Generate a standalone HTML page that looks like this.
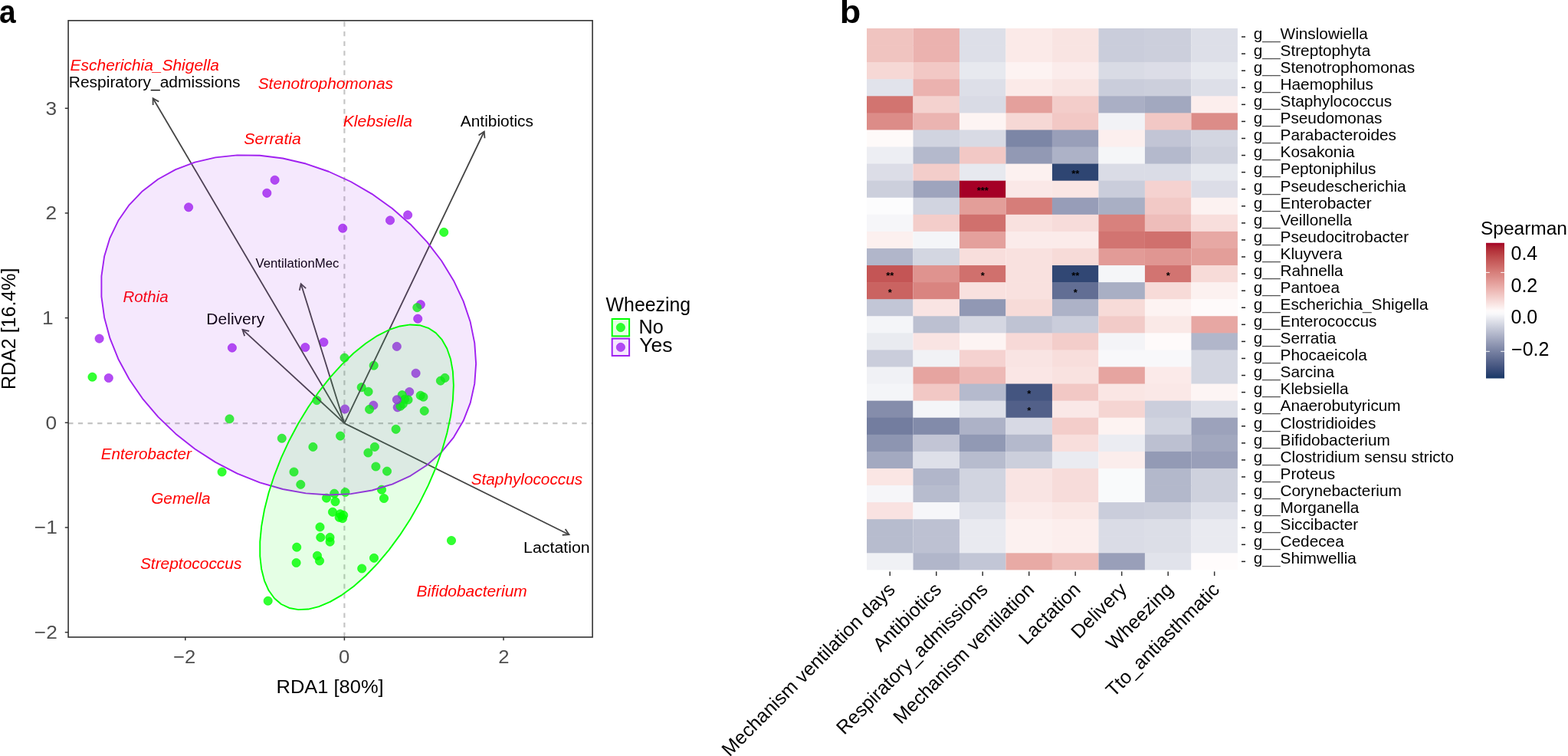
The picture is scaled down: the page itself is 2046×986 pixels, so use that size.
<!DOCTYPE html><html><head><meta charset="utf-8"><title>RDA and Spearman heatmap</title><style>html,body{margin:0;padding:0;background:#fff;width:2046px;height:986px;overflow:hidden}svg{display:block}text{font-family:"Liberation Sans",Arial,Helvetica,sans-serif}</style></head><body>
<svg width="2046" height="986" viewBox="0 0 2046 986">
<rect width="2046" height="986" fill="#fff"/>
<line x1="89.2" y1="552.1" x2="773.1" y2="552.1" stroke="#C4C4C4" stroke-width="2.1" stroke-dasharray="6.32 6.32"/>
<line x1="449.4" y1="831.0" x2="449.4" y2="26.8" stroke="#C4C4C4" stroke-width="2.1" stroke-dasharray="6.32 6.32"/>
<circle cx="358.6" cy="234.8" r="5.6" fill="#A020F0" fill-opacity="0.8" stroke="#A020F0" stroke-opacity="0.8" stroke-width="0.8"/>
<circle cx="348.3" cy="251.8" r="5.6" fill="#A020F0" fill-opacity="0.8" stroke="#A020F0" stroke-opacity="0.8" stroke-width="0.8"/>
<circle cx="246.1" cy="270.3" r="5.6" fill="#A020F0" fill-opacity="0.8" stroke="#A020F0" stroke-opacity="0.8" stroke-width="0.8"/>
<circle cx="447.2" cy="297.7" r="5.6" fill="#A020F0" fill-opacity="0.8" stroke="#A020F0" stroke-opacity="0.8" stroke-width="0.8"/>
<circle cx="532.1" cy="280.4" r="5.6" fill="#A020F0" fill-opacity="0.8" stroke="#A020F0" stroke-opacity="0.8" stroke-width="0.8"/>
<circle cx="509.0" cy="287.4" r="5.6" fill="#A020F0" fill-opacity="0.8" stroke="#A020F0" stroke-opacity="0.8" stroke-width="0.8"/>
<circle cx="548.8" cy="397.2" r="5.6" fill="#A020F0" fill-opacity="0.8" stroke="#A020F0" stroke-opacity="0.8" stroke-width="0.8"/>
<circle cx="545.2" cy="415.7" r="5.6" fill="#A020F0" fill-opacity="0.8" stroke="#A020F0" stroke-opacity="0.8" stroke-width="0.8"/>
<circle cx="517.8" cy="451.9" r="5.6" fill="#A020F0" fill-opacity="0.8" stroke="#A020F0" stroke-opacity="0.8" stroke-width="0.8"/>
<circle cx="129.6" cy="441.6" r="5.6" fill="#A020F0" fill-opacity="0.8" stroke="#A020F0" stroke-opacity="0.8" stroke-width="0.8"/>
<circle cx="302.9" cy="453.6" r="5.6" fill="#A020F0" fill-opacity="0.8" stroke="#A020F0" stroke-opacity="0.8" stroke-width="0.8"/>
<circle cx="398.3" cy="453.0" r="5.6" fill="#A020F0" fill-opacity="0.8" stroke="#A020F0" stroke-opacity="0.8" stroke-width="0.8"/>
<circle cx="422.4" cy="446.3" r="5.6" fill="#A020F0" fill-opacity="0.8" stroke="#A020F0" stroke-opacity="0.8" stroke-width="0.8"/>
<circle cx="141.8" cy="493.0" r="5.6" fill="#A020F0" fill-opacity="0.8" stroke="#A020F0" stroke-opacity="0.8" stroke-width="0.8"/>
<circle cx="450.1" cy="533.5" r="5.6" fill="#A020F0" fill-opacity="0.8" stroke="#A020F0" stroke-opacity="0.8" stroke-width="0.8"/>
<circle cx="542.6" cy="486.8" r="5.6" fill="#A020F0" fill-opacity="0.8" stroke="#A020F0" stroke-opacity="0.8" stroke-width="0.8"/>
<circle cx="534.2" cy="511.1" r="5.6" fill="#A020F0" fill-opacity="0.8" stroke="#A020F0" stroke-opacity="0.8" stroke-width="0.8"/>
<circle cx="518.7" cy="531.3" r="5.6" fill="#A020F0" fill-opacity="0.8" stroke="#A020F0" stroke-opacity="0.8" stroke-width="0.8"/>
<circle cx="487.3" cy="528.6" r="5.6" fill="#A020F0" fill-opacity="0.8" stroke="#A020F0" stroke-opacity="0.8" stroke-width="0.8"/>
<circle cx="449.5" cy="466.6" r="5.6" fill="#00FF00" fill-opacity="0.8" stroke="#00FF00" stroke-opacity="0.8" stroke-width="0.8"/>
<circle cx="579.2" cy="302.9" r="5.6" fill="#00FF00" fill-opacity="0.8" stroke="#00FF00" stroke-opacity="0.8" stroke-width="0.8"/>
<circle cx="544.3" cy="401.1" r="5.6" fill="#00FF00" fill-opacity="0.8" stroke="#00FF00" stroke-opacity="0.8" stroke-width="0.8"/>
<circle cx="120.5" cy="491.7" r="5.6" fill="#00FF00" fill-opacity="0.8" stroke="#00FF00" stroke-opacity="0.8" stroke-width="0.8"/>
<circle cx="471.7" cy="505.2" r="5.6" fill="#00FF00" fill-opacity="0.8" stroke="#00FF00" stroke-opacity="0.8" stroke-width="0.8"/>
<circle cx="480.6" cy="510.8" r="5.6" fill="#00FF00" fill-opacity="0.8" stroke="#00FF00" stroke-opacity="0.8" stroke-width="0.8"/>
<circle cx="413.4" cy="522.1" r="5.6" fill="#00FF00" fill-opacity="0.8" stroke="#00FF00" stroke-opacity="0.8" stroke-width="0.8"/>
<circle cx="299.5" cy="546.4" r="5.6" fill="#00FF00" fill-opacity="0.8" stroke="#00FF00" stroke-opacity="0.8" stroke-width="0.8"/>
<circle cx="367.8" cy="571.7" r="5.6" fill="#00FF00" fill-opacity="0.8" stroke="#00FF00" stroke-opacity="0.8" stroke-width="0.8"/>
<circle cx="444.1" cy="568.6" r="5.6" fill="#00FF00" fill-opacity="0.8" stroke="#00FF00" stroke-opacity="0.8" stroke-width="0.8"/>
<circle cx="408.4" cy="582.9" r="5.6" fill="#00FF00" fill-opacity="0.8" stroke="#00FF00" stroke-opacity="0.8" stroke-width="0.8"/>
<circle cx="289.6" cy="615.5" r="5.6" fill="#00FF00" fill-opacity="0.8" stroke="#00FF00" stroke-opacity="0.8" stroke-width="0.8"/>
<circle cx="383.5" cy="615.5" r="5.6" fill="#00FF00" fill-opacity="0.8" stroke="#00FF00" stroke-opacity="0.8" stroke-width="0.8"/>
<circle cx="392.3" cy="631.9" r="5.6" fill="#00FF00" fill-opacity="0.8" stroke="#00FF00" stroke-opacity="0.8" stroke-width="0.8"/>
<circle cx="436.2" cy="643.7" r="5.6" fill="#00FF00" fill-opacity="0.8" stroke="#00FF00" stroke-opacity="0.8" stroke-width="0.8"/>
<circle cx="450.5" cy="642.0" r="5.6" fill="#00FF00" fill-opacity="0.8" stroke="#00FF00" stroke-opacity="0.8" stroke-width="0.8"/>
<circle cx="426.0" cy="649.6" r="5.6" fill="#00FF00" fill-opacity="0.8" stroke="#00FF00" stroke-opacity="0.8" stroke-width="0.8"/>
<circle cx="437.5" cy="654.2" r="5.6" fill="#00FF00" fill-opacity="0.8" stroke="#00FF00" stroke-opacity="0.8" stroke-width="0.8"/>
<circle cx="434.0" cy="667.8" r="5.6" fill="#00FF00" fill-opacity="0.8" stroke="#00FF00" stroke-opacity="0.8" stroke-width="0.8"/>
<circle cx="443.9" cy="670.3" r="5.6" fill="#00FF00" fill-opacity="0.8" stroke="#00FF00" stroke-opacity="0.8" stroke-width="0.8"/>
<circle cx="448.2" cy="671.9" r="5.6" fill="#00FF00" fill-opacity="0.8" stroke="#00FF00" stroke-opacity="0.8" stroke-width="0.8"/>
<circle cx="447.0" cy="676.1" r="5.6" fill="#00FF00" fill-opacity="0.8" stroke="#00FF00" stroke-opacity="0.8" stroke-width="0.8"/>
<circle cx="442.7" cy="674.8" r="5.6" fill="#00FF00" fill-opacity="0.8" stroke="#00FF00" stroke-opacity="0.8" stroke-width="0.8"/>
<circle cx="417.5" cy="687.4" r="5.6" fill="#00FF00" fill-opacity="0.8" stroke="#00FF00" stroke-opacity="0.8" stroke-width="0.8"/>
<circle cx="418.3" cy="700.9" r="5.6" fill="#00FF00" fill-opacity="0.8" stroke="#00FF00" stroke-opacity="0.8" stroke-width="0.8"/>
<circle cx="430.5" cy="700.9" r="5.6" fill="#00FF00" fill-opacity="0.8" stroke="#00FF00" stroke-opacity="0.8" stroke-width="0.8"/>
<circle cx="430.6" cy="706.6" r="5.6" fill="#00FF00" fill-opacity="0.8" stroke="#00FF00" stroke-opacity="0.8" stroke-width="0.8"/>
<circle cx="387.2" cy="713.7" r="5.6" fill="#00FF00" fill-opacity="0.8" stroke="#00FF00" stroke-opacity="0.8" stroke-width="0.8"/>
<circle cx="414.0" cy="724.8" r="5.6" fill="#00FF00" fill-opacity="0.8" stroke="#00FF00" stroke-opacity="0.8" stroke-width="0.8"/>
<circle cx="417.0" cy="731.5" r="5.6" fill="#00FF00" fill-opacity="0.8" stroke="#00FF00" stroke-opacity="0.8" stroke-width="0.8"/>
<circle cx="386.6" cy="734.0" r="5.6" fill="#00FF00" fill-opacity="0.8" stroke="#00FF00" stroke-opacity="0.8" stroke-width="0.8"/>
<circle cx="472.2" cy="741.5" r="5.6" fill="#00FF00" fill-opacity="0.8" stroke="#00FF00" stroke-opacity="0.8" stroke-width="0.8"/>
<circle cx="488.0" cy="727.8" r="5.6" fill="#00FF00" fill-opacity="0.8" stroke="#00FF00" stroke-opacity="0.8" stroke-width="0.8"/>
<circle cx="349.7" cy="783.7" r="5.6" fill="#00FF00" fill-opacity="0.8" stroke="#00FF00" stroke-opacity="0.8" stroke-width="0.8"/>
<circle cx="589.0" cy="705.0" r="5.6" fill="#00FF00" fill-opacity="0.8" stroke="#00FF00" stroke-opacity="0.8" stroke-width="0.8"/>
<circle cx="487.7" cy="476.7" r="5.6" fill="#00FF00" fill-opacity="0.8" stroke="#00FF00" stroke-opacity="0.8" stroke-width="0.8"/>
<circle cx="574.9" cy="496.6" r="5.6" fill="#00FF00" fill-opacity="0.8" stroke="#00FF00" stroke-opacity="0.8" stroke-width="0.8"/>
<circle cx="580.5" cy="492.9" r="5.6" fill="#00FF00" fill-opacity="0.8" stroke="#00FF00" stroke-opacity="0.8" stroke-width="0.8"/>
<circle cx="524.7" cy="515.2" r="5.6" fill="#00FF00" fill-opacity="0.8" stroke="#00FF00" stroke-opacity="0.8" stroke-width="0.8"/>
<circle cx="532.5" cy="521.4" r="5.6" fill="#00FF00" fill-opacity="0.8" stroke="#00FF00" stroke-opacity="0.8" stroke-width="0.8"/>
<circle cx="548.7" cy="515.8" r="5.6" fill="#00FF00" fill-opacity="0.8" stroke="#00FF00" stroke-opacity="0.8" stroke-width="0.8"/>
<circle cx="552.4" cy="517.7" r="5.6" fill="#00FF00" fill-opacity="0.8" stroke="#00FF00" stroke-opacity="0.8" stroke-width="0.8"/>
<circle cx="528.0" cy="520.8" r="5.6" fill="#00FF00" fill-opacity="0.8" stroke="#00FF00" stroke-opacity="0.8" stroke-width="0.8"/>
<circle cx="525.8" cy="526.9" r="5.6" fill="#00FF00" fill-opacity="0.8" stroke="#00FF00" stroke-opacity="0.8" stroke-width="0.8"/>
<circle cx="522.5" cy="529.7" r="5.6" fill="#00FF00" fill-opacity="0.8" stroke="#00FF00" stroke-opacity="0.8" stroke-width="0.8"/>
<circle cx="482.1" cy="533.9" r="5.6" fill="#00FF00" fill-opacity="0.8" stroke="#00FF00" stroke-opacity="0.8" stroke-width="0.8"/>
<circle cx="553.7" cy="535.9" r="5.6" fill="#00FF00" fill-opacity="0.8" stroke="#00FF00" stroke-opacity="0.8" stroke-width="0.8"/>
<circle cx="516.6" cy="559.8" r="5.6" fill="#00FF00" fill-opacity="0.8" stroke="#00FF00" stroke-opacity="0.8" stroke-width="0.8"/>
<circle cx="488.9" cy="582.9" r="5.6" fill="#00FF00" fill-opacity="0.8" stroke="#00FF00" stroke-opacity="0.8" stroke-width="0.8"/>
<circle cx="480.4" cy="590.5" r="5.6" fill="#00FF00" fill-opacity="0.8" stroke="#00FF00" stroke-opacity="0.8" stroke-width="0.8"/>
<circle cx="490.4" cy="608.5" r="5.6" fill="#00FF00" fill-opacity="0.8" stroke="#00FF00" stroke-opacity="0.8" stroke-width="0.8"/>
<circle cx="505.0" cy="614.6" r="5.6" fill="#00FF00" fill-opacity="0.8" stroke="#00FF00" stroke-opacity="0.8" stroke-width="0.8"/>
<circle cx="498.0" cy="638.7" r="5.6" fill="#00FF00" fill-opacity="0.8" stroke="#00FF00" stroke-opacity="0.8" stroke-width="0.8"/>
<circle cx="501.0" cy="650.0" r="5.6" fill="#00FF00" fill-opacity="0.8" stroke="#00FF00" stroke-opacity="0.8" stroke-width="0.8"/>
<circle cx="517.9" cy="521.3" r="5.6" fill="#A020F0" fill-opacity="0.8" stroke="#A020F0" stroke-opacity="0.8" stroke-width="0.8"/>
<g stroke="#444444" stroke-width="1.8" stroke-linecap="butt" stroke-linejoin="miter">
<line x1="449.4" y1="552.1" x2="199.6" y2="128.3"/><polyline points="207.26,132.63 199.60,128.30 199.68,137.10" fill="none"/>
<line x1="449.4" y1="552.1" x2="631.8" y2="171.5"/><polyline points="632.47,180.27 631.80,171.50 624.54,176.47" fill="none"/>
<line x1="449.4" y1="552.1" x2="392.7" y2="370.2"/><polyline points="399.17,376.17 392.70,370.20 390.77,378.79" fill="none"/>
<line x1="449.4" y1="552.1" x2="316.5" y2="429.9"/><polyline points="325.09,431.82 316.50,429.90 319.13,438.30" fill="none"/>
<line x1="449.4" y1="552.1" x2="742.5" y2="697.2"/><polyline points="733.72,697.76 742.50,697.20 737.62,689.88" fill="none"/>
</g>
<rect x="89.1" y="26.8" width="684.0" height="804.2" fill="none" stroke="#333333" stroke-width="1.6"/>
<line x1="241.79999999999998" y1="831.0" x2="241.79999999999998" y2="835.3" stroke="#333" stroke-width="1.5"/>
<line x1="449.4" y1="831.0" x2="449.4" y2="835.3" stroke="#333" stroke-width="1.5"/>
<line x1="657.0" y1="831.0" x2="657.0" y2="835.3" stroke="#333" stroke-width="1.5"/>
<line x1="84.8" y1="824.66" x2="89.1" y2="824.66" stroke="#333" stroke-width="1.5"/>
<line x1="84.8" y1="687.98" x2="89.1" y2="687.98" stroke="#333" stroke-width="1.5"/>
<line x1="84.8" y1="551.3" x2="89.1" y2="551.3" stroke="#333" stroke-width="1.5"/>
<line x1="84.8" y1="414.61999999999995" x2="89.1" y2="414.61999999999995" stroke="#333" stroke-width="1.5"/>
<line x1="84.8" y1="277.93999999999994" x2="89.1" y2="277.93999999999994" stroke="#333" stroke-width="1.5"/>
<line x1="84.8" y1="141.25999999999993" x2="89.1" y2="141.25999999999993" stroke="#333" stroke-width="1.5"/>
<text transform="translate(19.7,428.8) rotate(-90)" font-size="25" fill="#000" text-anchor="middle">RDA2 [16.4%]</text>
<rect x="798.7" y="416.0" width="22.4" height="22.4" fill="#00FF00" fill-opacity="0.1" stroke="#00FF00" stroke-width="2"/>
<circle cx="809.9" cy="427.1" r="5.6" fill="#00FF00" fill-opacity="0.8" stroke="#00FF00" stroke-opacity="0.8" stroke-width="0.8"/>
<rect x="798.7" y="441.6" width="22.4" height="22.4" fill="#A020F0" fill-opacity="0.1" stroke="#A020F0" stroke-width="2"/>
<circle cx="809.9" cy="452.9" r="5.6" fill="#A020F0" fill-opacity="0.8" stroke="#A020F0" stroke-opacity="0.8" stroke-width="0.8"/>
<rect x="1131.00" y="37.00" width="60.49" height="22.68" fill="#F0C4C0"/>
<rect x="1191.49" y="37.00" width="60.49" height="22.68" fill="#EBB2AF"/>
<rect x="1251.97" y="37.00" width="60.49" height="22.68" fill="#DDDFE8"/>
<rect x="1312.46" y="37.00" width="60.49" height="22.68" fill="#FBEAE8"/>
<rect x="1372.95" y="37.00" width="60.49" height="22.68" fill="#F9E4E2"/>
<rect x="1433.44" y="37.00" width="60.49" height="22.68" fill="#CACDDB"/>
<rect x="1493.93" y="37.00" width="60.49" height="22.68" fill="#CCCFDC"/>
<rect x="1554.41" y="37.00" width="60.49" height="22.68" fill="#DDDFE8"/>
<rect x="1131.00" y="59.08" width="60.49" height="22.68" fill="#F0C4C0"/>
<rect x="1191.49" y="59.08" width="60.49" height="22.68" fill="#EBB2AF"/>
<rect x="1251.97" y="59.08" width="60.49" height="22.68" fill="#DDDFE8"/>
<rect x="1312.46" y="59.08" width="60.49" height="22.68" fill="#FBEAE8"/>
<rect x="1372.95" y="59.08" width="60.49" height="22.68" fill="#F9E4E2"/>
<rect x="1433.44" y="59.08" width="60.49" height="22.68" fill="#CACDDB"/>
<rect x="1493.93" y="59.08" width="60.49" height="22.68" fill="#CCCFDC"/>
<rect x="1554.41" y="59.08" width="60.49" height="22.68" fill="#DDDFE8"/>
<rect x="1131.00" y="81.15" width="60.49" height="22.68" fill="#F6D8D5"/>
<rect x="1191.49" y="81.15" width="60.49" height="22.68" fill="#F2C8C5"/>
<rect x="1251.97" y="81.15" width="60.49" height="22.68" fill="#E7E9EF"/>
<rect x="1312.46" y="81.15" width="60.49" height="22.68" fill="#FDF3F2"/>
<rect x="1372.95" y="81.15" width="60.49" height="22.68" fill="#FBECEB"/>
<rect x="1433.44" y="81.15" width="60.49" height="22.68" fill="#D9DBE5"/>
<rect x="1493.93" y="81.15" width="60.49" height="22.68" fill="#DCDDE7"/>
<rect x="1554.41" y="81.15" width="60.49" height="22.68" fill="#E7E9EF"/>
<rect x="1131.00" y="103.22" width="60.49" height="22.68" fill="#E1E3EB"/>
<rect x="1191.49" y="103.22" width="60.49" height="22.68" fill="#EBB2AF"/>
<rect x="1251.97" y="103.22" width="60.49" height="22.68" fill="#DDDFE8"/>
<rect x="1312.46" y="103.22" width="60.49" height="22.68" fill="#FBEAE8"/>
<rect x="1372.95" y="103.22" width="60.49" height="22.68" fill="#F9E4E2"/>
<rect x="1433.44" y="103.22" width="60.49" height="22.68" fill="#CACDDB"/>
<rect x="1493.93" y="103.22" width="60.49" height="22.68" fill="#CCCFDC"/>
<rect x="1554.41" y="103.22" width="60.49" height="22.68" fill="#DDDFE8"/>
<rect x="1131.00" y="125.30" width="60.49" height="22.68" fill="#D27470"/>
<rect x="1191.49" y="125.30" width="60.49" height="22.68" fill="#F4D2CF"/>
<rect x="1251.97" y="125.30" width="60.49" height="22.68" fill="#D9DBE5"/>
<rect x="1312.46" y="125.30" width="60.49" height="22.68" fill="#E4A09C"/>
<rect x="1372.95" y="125.30" width="60.49" height="22.68" fill="#F3CDCA"/>
<rect x="1433.44" y="125.30" width="60.49" height="22.68" fill="#AAAFC5"/>
<rect x="1493.93" y="125.30" width="60.49" height="22.68" fill="#A2A8BF"/>
<rect x="1554.41" y="125.30" width="60.49" height="22.68" fill="#FCEEED"/>
<rect x="1131.00" y="147.38" width="60.49" height="22.68" fill="#DC8C88"/>
<rect x="1191.49" y="147.38" width="60.49" height="22.68" fill="#EBB4B1"/>
<rect x="1251.97" y="147.38" width="60.49" height="22.68" fill="#FDF4F3"/>
<rect x="1312.46" y="147.38" width="60.49" height="22.68" fill="#F6D8D5"/>
<rect x="1372.95" y="147.38" width="60.49" height="22.68" fill="#F2C8C5"/>
<rect x="1433.44" y="147.38" width="60.49" height="22.68" fill="#F2F2F6"/>
<rect x="1493.93" y="147.38" width="60.49" height="22.68" fill="#F2C8C5"/>
<rect x="1554.41" y="147.38" width="60.49" height="22.68" fill="#DC8C88"/>
<rect x="1131.00" y="169.45" width="60.49" height="22.68" fill="#FEFAF9"/>
<rect x="1191.49" y="169.45" width="60.49" height="22.68" fill="#D1D4E0"/>
<rect x="1251.97" y="169.45" width="60.49" height="22.68" fill="#D8DAE4"/>
<rect x="1312.46" y="169.45" width="60.49" height="22.68" fill="#7C86A6"/>
<rect x="1372.95" y="169.45" width="60.49" height="22.68" fill="#999FB9"/>
<rect x="1433.44" y="169.45" width="60.49" height="22.68" fill="#FCEFEE"/>
<rect x="1493.93" y="169.45" width="60.49" height="22.68" fill="#C2C5D5"/>
<rect x="1554.41" y="169.45" width="60.49" height="22.68" fill="#D3D6E1"/>
<rect x="1131.00" y="191.53" width="60.49" height="22.68" fill="#EDEEF3"/>
<rect x="1191.49" y="191.53" width="60.49" height="22.68" fill="#B4B9CC"/>
<rect x="1251.97" y="191.53" width="60.49" height="22.68" fill="#F2C8C5"/>
<rect x="1312.46" y="191.53" width="60.49" height="22.68" fill="#9299B4"/>
<rect x="1372.95" y="191.53" width="60.49" height="22.68" fill="#ADB2C7"/>
<rect x="1433.44" y="191.53" width="60.49" height="22.68" fill="#F5F6F8"/>
<rect x="1493.93" y="191.53" width="60.49" height="22.68" fill="#B4B9CC"/>
<rect x="1554.41" y="191.53" width="60.49" height="22.68" fill="#CED1DD"/>
<rect x="1131.00" y="213.60" width="60.49" height="22.68" fill="#DCDDE7"/>
<rect x="1191.49" y="213.60" width="60.49" height="22.68" fill="#F3CDCA"/>
<rect x="1251.97" y="213.60" width="60.49" height="22.68" fill="#E7E9EF"/>
<rect x="1312.46" y="213.60" width="60.49" height="22.68" fill="#FCF1F0"/>
<rect x="1372.95" y="213.60" width="60.49" height="22.68" fill="#2E4572"/>
<rect x="1433.44" y="213.60" width="60.49" height="22.68" fill="#DADCE6"/>
<rect x="1493.93" y="213.60" width="60.49" height="22.68" fill="#DADCE6"/>
<rect x="1554.41" y="213.60" width="60.49" height="22.68" fill="#E7E9EF"/>
<rect x="1131.00" y="235.67" width="60.49" height="22.68" fill="#CCCFDC"/>
<rect x="1191.49" y="235.67" width="60.49" height="22.68" fill="#9EA4BD"/>
<rect x="1251.97" y="235.67" width="60.49" height="22.68" fill="#A50026"/>
<rect x="1312.46" y="235.67" width="60.49" height="22.68" fill="#FAE8E7"/>
<rect x="1372.95" y="235.67" width="60.49" height="22.68" fill="#FAE6E4"/>
<rect x="1433.44" y="235.67" width="60.49" height="22.68" fill="#CACDDB"/>
<rect x="1493.93" y="235.67" width="60.49" height="22.68" fill="#F5D2D0"/>
<rect x="1554.41" y="235.67" width="60.49" height="22.68" fill="#DCDDE7"/>
<rect x="1131.00" y="257.75" width="60.49" height="22.68" fill="#FCFCFD"/>
<rect x="1191.49" y="257.75" width="60.49" height="22.68" fill="#D1D4E0"/>
<rect x="1251.97" y="257.75" width="60.49" height="22.68" fill="#E39E99"/>
<rect x="1312.46" y="257.75" width="60.49" height="22.68" fill="#D67D79"/>
<rect x="1372.95" y="257.75" width="60.49" height="22.68" fill="#979DB8"/>
<rect x="1433.44" y="257.75" width="60.49" height="22.68" fill="#A9AFC4"/>
<rect x="1493.93" y="257.75" width="60.49" height="22.68" fill="#F2C9C6"/>
<rect x="1554.41" y="257.75" width="60.49" height="22.68" fill="#FCF2F1"/>
<rect x="1131.00" y="279.82" width="60.49" height="22.68" fill="#F6F6F9"/>
<rect x="1191.49" y="279.82" width="60.49" height="22.68" fill="#F3CDCA"/>
<rect x="1251.97" y="279.82" width="60.49" height="22.68" fill="#D0706D"/>
<rect x="1312.46" y="279.82" width="60.49" height="22.68" fill="#F9E1DF"/>
<rect x="1372.95" y="279.82" width="60.49" height="22.68" fill="#F7DCDA"/>
<rect x="1433.44" y="279.82" width="60.49" height="22.68" fill="#D8817D"/>
<rect x="1493.93" y="279.82" width="60.49" height="22.68" fill="#EEBDBA"/>
<rect x="1554.41" y="279.82" width="60.49" height="22.68" fill="#F8DEDC"/>
<rect x="1131.00" y="301.90" width="60.49" height="22.68" fill="#FCF0EF"/>
<rect x="1191.49" y="301.90" width="60.49" height="22.68" fill="#F4F5F8"/>
<rect x="1251.97" y="301.90" width="60.49" height="22.68" fill="#E4A09C"/>
<rect x="1312.46" y="301.90" width="60.49" height="22.68" fill="#FBEBEA"/>
<rect x="1372.95" y="301.90" width="60.49" height="22.68" fill="#FBEBEA"/>
<rect x="1433.44" y="301.90" width="60.49" height="22.68" fill="#D27471"/>
<rect x="1493.93" y="301.90" width="60.49" height="22.68" fill="#D0706D"/>
<rect x="1554.41" y="301.90" width="60.49" height="22.68" fill="#E7A8A4"/>
<rect x="1131.00" y="323.97" width="60.49" height="22.68" fill="#B1B6CA"/>
<rect x="1191.49" y="323.97" width="60.49" height="22.68" fill="#D3D6E1"/>
<rect x="1251.97" y="323.97" width="60.49" height="22.68" fill="#F8DEDC"/>
<rect x="1312.46" y="323.97" width="60.49" height="22.68" fill="#F9E1DF"/>
<rect x="1372.95" y="323.97" width="60.49" height="22.68" fill="#F7DBD8"/>
<rect x="1433.44" y="323.97" width="60.49" height="22.68" fill="#E29B97"/>
<rect x="1493.93" y="323.97" width="60.49" height="22.68" fill="#E09692"/>
<rect x="1554.41" y="323.97" width="60.49" height="22.68" fill="#E39E99"/>
<rect x="1131.00" y="346.05" width="60.49" height="22.68" fill="#C45555"/>
<rect x="1191.49" y="346.05" width="60.49" height="22.68" fill="#DF938F"/>
<rect x="1251.97" y="346.05" width="60.49" height="22.68" fill="#D0706D"/>
<rect x="1312.46" y="346.05" width="60.49" height="22.68" fill="#F9E1DF"/>
<rect x="1372.95" y="346.05" width="60.49" height="22.68" fill="#314774"/>
<rect x="1433.44" y="346.05" width="60.49" height="22.68" fill="#F5F6F8"/>
<rect x="1493.93" y="346.05" width="60.49" height="22.68" fill="#D27471"/>
<rect x="1554.41" y="346.05" width="60.49" height="22.68" fill="#F7DBD8"/>
<rect x="1131.00" y="368.12" width="60.49" height="22.68" fill="#CA6361"/>
<rect x="1191.49" y="368.12" width="60.49" height="22.68" fill="#D98480"/>
<rect x="1251.97" y="368.12" width="60.49" height="22.68" fill="#F9E1DF"/>
<rect x="1312.46" y="368.12" width="60.49" height="22.68" fill="#F9E1DF"/>
<rect x="1372.95" y="368.12" width="60.49" height="22.68" fill="#626E94"/>
<rect x="1433.44" y="368.12" width="60.49" height="22.68" fill="#A9AFC4"/>
<rect x="1493.93" y="368.12" width="60.49" height="22.68" fill="#F7DBD8"/>
<rect x="1554.41" y="368.12" width="60.49" height="22.68" fill="#FCF1F0"/>
<rect x="1131.00" y="390.20" width="60.49" height="22.68" fill="#C2C6D6"/>
<rect x="1191.49" y="390.20" width="60.49" height="22.68" fill="#F9E4E3"/>
<rect x="1251.97" y="390.20" width="60.49" height="22.68" fill="#9198B4"/>
<rect x="1312.46" y="390.20" width="60.49" height="22.68" fill="#F7DBD8"/>
<rect x="1372.95" y="390.20" width="60.49" height="22.68" fill="#ADB2C7"/>
<rect x="1433.44" y="390.20" width="60.49" height="22.68" fill="#F7DBD8"/>
<rect x="1493.93" y="390.20" width="60.49" height="22.68" fill="#FDF3F2"/>
<rect x="1554.41" y="390.20" width="60.49" height="22.68" fill="#FEFAFA"/>
<rect x="1131.00" y="412.27" width="60.49" height="22.68" fill="#F4F5F8"/>
<rect x="1191.49" y="412.27" width="60.49" height="22.68" fill="#BCC0D1"/>
<rect x="1251.97" y="412.27" width="60.49" height="22.68" fill="#D5D7E2"/>
<rect x="1312.46" y="412.27" width="60.49" height="22.68" fill="#BFC3D3"/>
<rect x="1372.95" y="412.27" width="60.49" height="22.68" fill="#CACDDB"/>
<rect x="1433.44" y="412.27" width="60.49" height="22.68" fill="#F2CBC8"/>
<rect x="1493.93" y="412.27" width="60.49" height="22.68" fill="#FAE9E7"/>
<rect x="1554.41" y="412.27" width="60.49" height="22.68" fill="#E7A7A3"/>
<rect x="1131.00" y="434.35" width="60.49" height="22.68" fill="#E9EBF0"/>
<rect x="1191.49" y="434.35" width="60.49" height="22.68" fill="#F9E4E3"/>
<rect x="1251.97" y="434.35" width="60.49" height="22.68" fill="#FDF4F3"/>
<rect x="1312.46" y="434.35" width="60.49" height="22.68" fill="#F7D9D7"/>
<rect x="1372.95" y="434.35" width="60.49" height="22.68" fill="#F3CDCA"/>
<rect x="1433.44" y="434.35" width="60.49" height="22.68" fill="#F4F4F7"/>
<rect x="1493.93" y="434.35" width="60.49" height="22.68" fill="#FEFAFA"/>
<rect x="1554.41" y="434.35" width="60.49" height="22.68" fill="#B1B6CA"/>
<rect x="1131.00" y="456.43" width="60.49" height="22.68" fill="#CACDDB"/>
<rect x="1191.49" y="456.43" width="60.49" height="22.68" fill="#F1F2F5"/>
<rect x="1251.97" y="456.43" width="60.49" height="22.68" fill="#F5D2D0"/>
<rect x="1312.46" y="456.43" width="60.49" height="22.68" fill="#F9E4E3"/>
<rect x="1372.95" y="456.43" width="60.49" height="22.68" fill="#F8DEDC"/>
<rect x="1433.44" y="456.43" width="60.49" height="22.68" fill="#F8F8FA"/>
<rect x="1493.93" y="456.43" width="60.49" height="22.68" fill="#F8F8FA"/>
<rect x="1554.41" y="456.43" width="60.49" height="22.68" fill="#D3D6E1"/>
<rect x="1131.00" y="478.50" width="60.49" height="22.68" fill="#F0F1F5"/>
<rect x="1191.49" y="478.50" width="60.49" height="22.68" fill="#E6A4A0"/>
<rect x="1251.97" y="478.50" width="60.49" height="22.68" fill="#EDB9B6"/>
<rect x="1312.46" y="478.50" width="60.49" height="22.68" fill="#FAE6E5"/>
<rect x="1372.95" y="478.50" width="60.49" height="22.68" fill="#F9E2E0"/>
<rect x="1433.44" y="478.50" width="60.49" height="22.68" fill="#E6A4A0"/>
<rect x="1493.93" y="478.50" width="60.49" height="22.68" fill="#FBEAE9"/>
<rect x="1554.41" y="478.50" width="60.49" height="22.68" fill="#D3D6E1"/>
<rect x="1131.00" y="500.57" width="60.49" height="22.68" fill="#F4F5F8"/>
<rect x="1191.49" y="500.57" width="60.49" height="22.68" fill="#F2C8C5"/>
<rect x="1251.97" y="500.57" width="60.49" height="22.68" fill="#B5BACD"/>
<rect x="1312.46" y="500.57" width="60.49" height="22.68" fill="#445580"/>
<rect x="1372.95" y="500.57" width="60.49" height="22.68" fill="#F2C8C5"/>
<rect x="1433.44" y="500.57" width="60.49" height="22.68" fill="#FAE6E4"/>
<rect x="1493.93" y="500.57" width="60.49" height="22.68" fill="#FAE8E7"/>
<rect x="1554.41" y="500.57" width="60.49" height="22.68" fill="#FDF5F4"/>
<rect x="1131.00" y="522.65" width="60.49" height="22.68" fill="#858DAB"/>
<rect x="1191.49" y="522.65" width="60.49" height="22.68" fill="#F4F5F8"/>
<rect x="1251.97" y="522.65" width="60.49" height="22.68" fill="#DEE0E9"/>
<rect x="1312.46" y="522.65" width="60.49" height="22.68" fill="#526089"/>
<rect x="1372.95" y="522.65" width="60.49" height="22.68" fill="#FAE8E7"/>
<rect x="1433.44" y="522.65" width="60.49" height="22.68" fill="#F5D5D2"/>
<rect x="1493.93" y="522.65" width="60.49" height="22.68" fill="#CBCEDC"/>
<rect x="1554.41" y="522.65" width="60.49" height="22.68" fill="#DDDFE8"/>
<rect x="1131.00" y="544.72" width="60.49" height="22.68" fill="#737D9F"/>
<rect x="1191.49" y="544.72" width="60.49" height="22.68" fill="#828BAA"/>
<rect x="1251.97" y="544.72" width="60.49" height="22.68" fill="#ADB2C7"/>
<rect x="1312.46" y="544.72" width="60.49" height="22.68" fill="#D7D9E4"/>
<rect x="1372.95" y="544.72" width="60.49" height="22.68" fill="#F3CDCA"/>
<rect x="1433.44" y="544.72" width="60.49" height="22.68" fill="#FDF3F2"/>
<rect x="1493.93" y="544.72" width="60.49" height="22.68" fill="#D1D4E0"/>
<rect x="1554.41" y="544.72" width="60.49" height="22.68" fill="#9CA2BB"/>
<rect x="1131.00" y="566.80" width="60.49" height="22.68" fill="#8D95B1"/>
<rect x="1191.49" y="566.80" width="60.49" height="22.68" fill="#C2C5D5"/>
<rect x="1251.97" y="566.80" width="60.49" height="22.68" fill="#9199B4"/>
<rect x="1312.46" y="566.80" width="60.49" height="22.68" fill="#B4B9CC"/>
<rect x="1372.95" y="566.80" width="60.49" height="22.68" fill="#F8DEDC"/>
<rect x="1433.44" y="566.80" width="60.49" height="22.68" fill="#EBECF2"/>
<rect x="1493.93" y="566.80" width="60.49" height="22.68" fill="#BCC0D1"/>
<rect x="1554.41" y="566.80" width="60.49" height="22.68" fill="#A2A8BF"/>
<rect x="1131.00" y="588.88" width="60.49" height="22.68" fill="#A3A9C0"/>
<rect x="1191.49" y="588.88" width="60.49" height="22.68" fill="#DEE0E9"/>
<rect x="1251.97" y="588.88" width="60.49" height="22.68" fill="#B7BCCE"/>
<rect x="1312.46" y="588.88" width="60.49" height="22.68" fill="#CCCFDC"/>
<rect x="1372.95" y="588.88" width="60.49" height="22.68" fill="#EAEBF1"/>
<rect x="1433.44" y="588.88" width="60.49" height="22.68" fill="#FBEDEC"/>
<rect x="1493.93" y="588.88" width="60.49" height="22.68" fill="#939AB5"/>
<rect x="1554.41" y="588.88" width="60.49" height="22.68" fill="#999FB9"/>
<rect x="1131.00" y="610.95" width="60.49" height="22.68" fill="#FAE6E4"/>
<rect x="1191.49" y="610.95" width="60.49" height="22.68" fill="#B1B6CA"/>
<rect x="1251.97" y="610.95" width="60.49" height="22.68" fill="#D1D4E0"/>
<rect x="1312.46" y="610.95" width="60.49" height="22.68" fill="#F9E4E3"/>
<rect x="1372.95" y="610.95" width="60.49" height="22.68" fill="#F7DCDA"/>
<rect x="1433.44" y="610.95" width="60.49" height="22.68" fill="#F9FAFB"/>
<rect x="1493.93" y="610.95" width="60.49" height="22.68" fill="#B3B8CB"/>
<rect x="1554.41" y="610.95" width="60.49" height="22.68" fill="#CED1DD"/>
<rect x="1131.00" y="633.02" width="60.49" height="22.68" fill="#F6F6F9"/>
<rect x="1191.49" y="633.02" width="60.49" height="22.68" fill="#B7BCCE"/>
<rect x="1251.97" y="633.02" width="60.49" height="22.68" fill="#D1D4E0"/>
<rect x="1312.46" y="633.02" width="60.49" height="22.68" fill="#F9E4E3"/>
<rect x="1372.95" y="633.02" width="60.49" height="22.68" fill="#F7DCDA"/>
<rect x="1433.44" y="633.02" width="60.49" height="22.68" fill="#F9FAFB"/>
<rect x="1493.93" y="633.02" width="60.49" height="22.68" fill="#B3B8CB"/>
<rect x="1554.41" y="633.02" width="60.49" height="22.68" fill="#CED1DD"/>
<rect x="1131.00" y="655.10" width="60.49" height="22.68" fill="#F9E2E1"/>
<rect x="1191.49" y="655.10" width="60.49" height="22.68" fill="#F6F6F9"/>
<rect x="1251.97" y="655.10" width="60.49" height="22.68" fill="#DEE0E9"/>
<rect x="1312.46" y="655.10" width="60.49" height="22.68" fill="#FBEBEA"/>
<rect x="1372.95" y="655.10" width="60.49" height="22.68" fill="#FAE7E5"/>
<rect x="1433.44" y="655.10" width="60.49" height="22.68" fill="#CACDDB"/>
<rect x="1493.93" y="655.10" width="60.49" height="22.68" fill="#CCCFDC"/>
<rect x="1554.41" y="655.10" width="60.49" height="22.68" fill="#DEE0E9"/>
<rect x="1131.00" y="677.17" width="60.49" height="22.68" fill="#B7BCCE"/>
<rect x="1191.49" y="677.17" width="60.49" height="22.68" fill="#BDC1D2"/>
<rect x="1251.97" y="677.17" width="60.49" height="22.68" fill="#E9EAF0"/>
<rect x="1312.46" y="677.17" width="60.49" height="22.68" fill="#FCF1F0"/>
<rect x="1372.95" y="677.17" width="60.49" height="22.68" fill="#FCEEED"/>
<rect x="1433.44" y="677.17" width="60.49" height="22.68" fill="#DADCE6"/>
<rect x="1493.93" y="677.17" width="60.49" height="22.68" fill="#DCDEE7"/>
<rect x="1554.41" y="677.17" width="60.49" height="22.68" fill="#E9EAF0"/>
<rect x="1131.00" y="699.25" width="60.49" height="22.68" fill="#B7BCCE"/>
<rect x="1191.49" y="699.25" width="60.49" height="22.68" fill="#BDC1D2"/>
<rect x="1251.97" y="699.25" width="60.49" height="22.68" fill="#E9EAF0"/>
<rect x="1312.46" y="699.25" width="60.49" height="22.68" fill="#FCF1F0"/>
<rect x="1372.95" y="699.25" width="60.49" height="22.68" fill="#FCEEED"/>
<rect x="1433.44" y="699.25" width="60.49" height="22.68" fill="#DADCE6"/>
<rect x="1493.93" y="699.25" width="60.49" height="22.68" fill="#DCDEE7"/>
<rect x="1554.41" y="699.25" width="60.49" height="22.68" fill="#E9EAF0"/>
<rect x="1131.00" y="721.32" width="60.49" height="22.07" fill="#F0F1F5"/>
<rect x="1191.49" y="721.32" width="60.49" height="22.07" fill="#B1B6CA"/>
<rect x="1251.97" y="721.32" width="60.49" height="22.07" fill="#C2C6D6"/>
<rect x="1312.46" y="721.32" width="60.49" height="22.07" fill="#E8AAA5"/>
<rect x="1372.95" y="721.32" width="60.49" height="22.07" fill="#EEBDB9"/>
<rect x="1433.44" y="721.32" width="60.49" height="22.07" fill="#999FB9"/>
<rect x="1493.93" y="721.32" width="60.49" height="22.07" fill="#E1E3EB"/>
<rect x="1554.41" y="721.32" width="60.49" height="22.07" fill="#FFFCFC"/>
<text x="1403.19" y="231.14" font-size="13" font-weight="bold" fill="#000" text-anchor="middle">**</text>
<text x="1282.22" y="253.21" font-size="13" font-weight="bold" fill="#000" text-anchor="middle">***</text>
<text x="1161.24" y="363.59" font-size="13" font-weight="bold" fill="#000" text-anchor="middle">**</text>
<text x="1282.22" y="363.59" font-size="13" font-weight="bold" fill="#000" text-anchor="middle">*</text>
<text x="1403.19" y="363.59" font-size="13" font-weight="bold" fill="#000" text-anchor="middle">**</text>
<text x="1524.17" y="363.59" font-size="13" font-weight="bold" fill="#000" text-anchor="middle">*</text>
<text x="1161.24" y="385.66" font-size="13" font-weight="bold" fill="#000" text-anchor="middle">*</text>
<text x="1403.19" y="385.66" font-size="13" font-weight="bold" fill="#000" text-anchor="middle">*</text>
<text x="1342.71" y="518.11" font-size="13" font-weight="bold" fill="#000" text-anchor="middle">*</text>
<text x="1342.71" y="540.19" font-size="13" font-weight="bold" fill="#000" text-anchor="middle">*</text>
<line x1="1620" y1="48.04" x2="1625" y2="48.04" stroke="#222" stroke-width="1.5"/>
<text transform="translate(1635.8,50.84) scale(1.015,1)" font-size="20.5" fill="#000">g<tspan fill="#555">__</tspan>Winslowiella</text>
<line x1="1620" y1="70.11" x2="1625" y2="70.11" stroke="#222" stroke-width="1.5"/>
<text transform="translate(1635.8,72.91) scale(1.015,1)" font-size="20.5" fill="#000">g<tspan fill="#555">__</tspan>Streptophyta</text>
<line x1="1620" y1="92.19" x2="1625" y2="92.19" stroke="#222" stroke-width="1.5"/>
<text transform="translate(1635.8,94.99) scale(1.015,1)" font-size="20.5" fill="#000">g<tspan fill="#555">__</tspan>Stenotrophomonas</text>
<line x1="1620" y1="114.26" x2="1625" y2="114.26" stroke="#222" stroke-width="1.5"/>
<text transform="translate(1635.8,117.06) scale(1.015,1)" font-size="20.5" fill="#000">g<tspan fill="#555">__</tspan>Haemophilus</text>
<line x1="1620" y1="136.34" x2="1625" y2="136.34" stroke="#222" stroke-width="1.5"/>
<text transform="translate(1635.8,139.14) scale(1.015,1)" font-size="20.5" fill="#000">g<tspan fill="#555">__</tspan>Staphylococcus</text>
<line x1="1620" y1="158.41" x2="1625" y2="158.41" stroke="#222" stroke-width="1.5"/>
<text transform="translate(1635.8,161.21) scale(1.015,1)" font-size="20.5" fill="#000">g<tspan fill="#555">__</tspan>Pseudomonas</text>
<line x1="1620" y1="180.49" x2="1625" y2="180.49" stroke="#222" stroke-width="1.5"/>
<text transform="translate(1635.8,183.29) scale(1.015,1)" font-size="20.5" fill="#000">g<tspan fill="#555">__</tspan>Parabacteroides</text>
<line x1="1620" y1="202.56" x2="1625" y2="202.56" stroke="#222" stroke-width="1.5"/>
<text transform="translate(1635.8,205.36) scale(1.015,1)" font-size="20.5" fill="#000">g<tspan fill="#555">__</tspan>Kosakonia</text>
<line x1="1620" y1="224.64" x2="1625" y2="224.64" stroke="#222" stroke-width="1.5"/>
<text transform="translate(1635.8,227.44) scale(1.015,1)" font-size="20.5" fill="#000">g<tspan fill="#555">__</tspan>Peptoniphilus</text>
<line x1="1620" y1="246.71" x2="1625" y2="246.71" stroke="#222" stroke-width="1.5"/>
<text transform="translate(1635.8,249.51) scale(1.015,1)" font-size="20.5" fill="#000">g<tspan fill="#555">__</tspan>Pseudescherichia</text>
<line x1="1620" y1="268.79" x2="1625" y2="268.79" stroke="#222" stroke-width="1.5"/>
<text transform="translate(1635.8,271.59) scale(1.015,1)" font-size="20.5" fill="#000">g<tspan fill="#555">__</tspan>Enterobacter</text>
<line x1="1620" y1="290.86" x2="1625" y2="290.86" stroke="#222" stroke-width="1.5"/>
<text transform="translate(1635.8,293.66) scale(1.015,1)" font-size="20.5" fill="#000">g<tspan fill="#555">__</tspan>Veillonella</text>
<line x1="1620" y1="312.94" x2="1625" y2="312.94" stroke="#222" stroke-width="1.5"/>
<text transform="translate(1635.8,315.74) scale(1.015,1)" font-size="20.5" fill="#000">g<tspan fill="#555">__</tspan>Pseudocitrobacter</text>
<line x1="1620" y1="335.01" x2="1625" y2="335.01" stroke="#222" stroke-width="1.5"/>
<text transform="translate(1635.8,337.81) scale(1.015,1)" font-size="20.5" fill="#000">g<tspan fill="#555">__</tspan>Kluyvera</text>
<line x1="1620" y1="357.09" x2="1625" y2="357.09" stroke="#222" stroke-width="1.5"/>
<text transform="translate(1635.8,359.89) scale(1.015,1)" font-size="20.5" fill="#000">g<tspan fill="#555">__</tspan>Rahnella</text>
<line x1="1620" y1="379.16" x2="1625" y2="379.16" stroke="#222" stroke-width="1.5"/>
<text transform="translate(1635.8,381.96) scale(1.015,1)" font-size="20.5" fill="#000">g<tspan fill="#555">__</tspan>Pantoea</text>
<line x1="1620" y1="401.24" x2="1625" y2="401.24" stroke="#222" stroke-width="1.5"/>
<text transform="translate(1635.8,404.04) scale(1.015,1)" font-size="20.5" fill="#000">g<tspan fill="#555">__</tspan>Escherichia<tspan fill="#555">_</tspan>Shigella</text>
<line x1="1620" y1="423.31" x2="1625" y2="423.31" stroke="#222" stroke-width="1.5"/>
<text transform="translate(1635.8,426.11) scale(1.015,1)" font-size="20.5" fill="#000">g<tspan fill="#555">__</tspan>Enterococcus</text>
<line x1="1620" y1="445.39" x2="1625" y2="445.39" stroke="#222" stroke-width="1.5"/>
<text transform="translate(1635.8,448.19) scale(1.015,1)" font-size="20.5" fill="#000">g<tspan fill="#555">__</tspan>Serratia</text>
<line x1="1620" y1="467.46" x2="1625" y2="467.46" stroke="#222" stroke-width="1.5"/>
<text transform="translate(1635.8,470.26) scale(1.015,1)" font-size="20.5" fill="#000">g<tspan fill="#555">__</tspan>Phocaeicola</text>
<line x1="1620" y1="489.54" x2="1625" y2="489.54" stroke="#222" stroke-width="1.5"/>
<text transform="translate(1635.8,492.34) scale(1.015,1)" font-size="20.5" fill="#000">g<tspan fill="#555">__</tspan>Sarcina</text>
<line x1="1620" y1="511.61" x2="1625" y2="511.61" stroke="#222" stroke-width="1.5"/>
<text transform="translate(1635.8,514.41) scale(1.015,1)" font-size="20.5" fill="#000">g<tspan fill="#555">__</tspan>Klebsiella</text>
<line x1="1620" y1="533.69" x2="1625" y2="533.69" stroke="#222" stroke-width="1.5"/>
<text transform="translate(1635.8,536.49) scale(1.015,1)" font-size="20.5" fill="#000">g<tspan fill="#555">__</tspan>Anaerobutyricum</text>
<line x1="1620" y1="555.76" x2="1625" y2="555.76" stroke="#222" stroke-width="1.5"/>
<text transform="translate(1635.8,558.56) scale(1.015,1)" font-size="20.5" fill="#000">g<tspan fill="#555">__</tspan>Clostridioides</text>
<line x1="1620" y1="577.84" x2="1625" y2="577.84" stroke="#222" stroke-width="1.5"/>
<text transform="translate(1635.8,580.64) scale(1.015,1)" font-size="20.5" fill="#000">g<tspan fill="#555">__</tspan>Bifidobacterium</text>
<line x1="1620" y1="599.91" x2="1625" y2="599.91" stroke="#222" stroke-width="1.5"/>
<text transform="translate(1635.8,602.71) scale(1.015,1)" font-size="20.5" fill="#000">g<tspan fill="#555">__</tspan>Clostridium sensu stricto</text>
<line x1="1620" y1="621.99" x2="1625" y2="621.99" stroke="#222" stroke-width="1.5"/>
<text transform="translate(1635.8,624.79) scale(1.015,1)" font-size="20.5" fill="#000">g<tspan fill="#555">__</tspan>Proteus</text>
<line x1="1620" y1="644.06" x2="1625" y2="644.06" stroke="#222" stroke-width="1.5"/>
<text transform="translate(1635.8,646.86) scale(1.015,1)" font-size="20.5" fill="#000">g<tspan fill="#555">__</tspan>Corynebacterium</text>
<line x1="1620" y1="666.14" x2="1625" y2="666.14" stroke="#222" stroke-width="1.5"/>
<text transform="translate(1635.8,668.94) scale(1.015,1)" font-size="20.5" fill="#000">g<tspan fill="#555">__</tspan>Morganella</text>
<line x1="1620" y1="688.21" x2="1625" y2="688.21" stroke="#222" stroke-width="1.5"/>
<text transform="translate(1635.8,691.01) scale(1.015,1)" font-size="20.5" fill="#000">g<tspan fill="#555">__</tspan>Siccibacter</text>
<line x1="1620" y1="710.29" x2="1625" y2="710.29" stroke="#222" stroke-width="1.5"/>
<text transform="translate(1635.8,713.09) scale(1.015,1)" font-size="20.5" fill="#000">g<tspan fill="#555">__</tspan>Cedecea</text>
<line x1="1620" y1="732.36" x2="1625" y2="732.36" stroke="#222" stroke-width="1.5"/>
<text transform="translate(1635.8,735.16) scale(1.015,1)" font-size="20.5" fill="#000">g<tspan fill="#555">__</tspan>Shimwellia</text>
<line x1="1161.24" y1="745.4" x2="1161.24" y2="751" stroke="#333" stroke-width="1.5"/>
<text transform="translate(1157.24,758.5) rotate(-45)" font-size="25" fill="#000" text-anchor="end" dy="17">Mechanism ventilation days</text>
<line x1="1221.73" y1="745.4" x2="1221.73" y2="751" stroke="#333" stroke-width="1.5"/>
<text transform="translate(1217.73,758.5) rotate(-45)" font-size="25" fill="#000" text-anchor="end" dy="17">Antibiotics</text>
<line x1="1282.22" y1="745.4" x2="1282.22" y2="751" stroke="#333" stroke-width="1.5"/>
<text transform="translate(1278.22,758.5) rotate(-45)" font-size="25" fill="#000" text-anchor="end" dy="17">Respiratory_admissions</text>
<line x1="1342.71" y1="745.4" x2="1342.71" y2="751" stroke="#333" stroke-width="1.5"/>
<text transform="translate(1338.71,758.5) rotate(-45)" font-size="25" fill="#000" text-anchor="end" dy="17">Mechanism ventilation</text>
<line x1="1403.19" y1="745.4" x2="1403.19" y2="751" stroke="#333" stroke-width="1.5"/>
<text transform="translate(1399.19,758.5) rotate(-45)" font-size="25" fill="#000" text-anchor="end" dy="17">Lactation</text>
<line x1="1463.68" y1="745.4" x2="1463.68" y2="751" stroke="#333" stroke-width="1.5"/>
<text transform="translate(1459.68,758.5) rotate(-45)" font-size="25" fill="#000" text-anchor="end" dy="17">Delivery</text>
<line x1="1524.17" y1="745.4" x2="1524.17" y2="751" stroke="#333" stroke-width="1.5"/>
<text transform="translate(1520.17,758.5) rotate(-45)" font-size="25" fill="#000" text-anchor="end" dy="17">Wheezing</text>
<line x1="1584.66" y1="745.4" x2="1584.66" y2="751" stroke="#333" stroke-width="1.5"/>
<text transform="translate(1580.66,758.5) rotate(-45)" font-size="25" fill="#000" text-anchor="end" dy="17">Tto_antiasthmatic</text>
<defs><linearGradient id="cb" x1="0" y1="0" x2="0" y2="1"><stop offset="0.0000" stop-color="#A50026"/><stop offset="0.0250" stop-color="#AB1D2F"/><stop offset="0.0500" stop-color="#B22E38"/><stop offset="0.0750" stop-color="#B83C41"/><stop offset="0.1000" stop-color="#BE494B"/><stop offset="0.1250" stop-color="#C35555"/><stop offset="0.1500" stop-color="#C9605F"/><stop offset="0.1750" stop-color="#CE6B69"/><stop offset="0.2000" stop-color="#D37773"/><stop offset="0.2250" stop-color="#D8827E"/><stop offset="0.2500" stop-color="#DC8C88"/><stop offset="0.2750" stop-color="#E19793"/><stop offset="0.3000" stop-color="#E5A29E"/><stop offset="0.3250" stop-color="#E9ADA9"/><stop offset="0.3500" stop-color="#EDB8B4"/><stop offset="0.3750" stop-color="#F0C3C0"/><stop offset="0.4000" stop-color="#F3CECB"/><stop offset="0.4250" stop-color="#F6D9D7"/><stop offset="0.4500" stop-color="#F9E4E2"/><stop offset="0.4750" stop-color="#FCEFEE"/><stop offset="0.5000" stop-color="#FEFAFA"/><stop offset="0.5250" stop-color="#F8F8FA"/><stop offset="0.5500" stop-color="#ECEDF2"/><stop offset="0.5750" stop-color="#E0E2EA"/><stop offset="0.6000" stop-color="#D4D7E2"/><stop offset="0.6250" stop-color="#C8CCDA"/><stop offset="0.6500" stop-color="#BDC1D2"/><stop offset="0.6750" stop-color="#B1B6CA"/><stop offset="0.7000" stop-color="#A6ABC2"/><stop offset="0.7250" stop-color="#9AA1BA"/><stop offset="0.7500" stop-color="#8F96B2"/><stop offset="0.7750" stop-color="#838CAA"/><stop offset="0.8000" stop-color="#7882A3"/><stop offset="0.8250" stop-color="#6D789B"/><stop offset="0.8500" stop-color="#626E93"/><stop offset="0.8750" stop-color="#56648C"/><stop offset="0.9000" stop-color="#4B5B84"/><stop offset="0.9250" stop-color="#3F517D"/><stop offset="0.9500" stop-color="#334876"/><stop offset="0.9750" stop-color="#26406E"/><stop offset="1.0000" stop-color="#173767"/></linearGradient></defs>
<rect x="1939" y="316.8" width="24" height="176.7" fill="url(#cb)"/>
<line x1="1939" y1="355.4" x2="1943.8" y2="355.4" stroke="#fff" stroke-width="1"/>
<line x1="1958.2" y1="355.4" x2="1963" y2="355.4" stroke="#fff" stroke-width="1"/>
<line x1="1939" y1="458.3" x2="1943.8" y2="458.3" stroke="#fff" stroke-width="1"/>
<line x1="1958.2" y1="458.3" x2="1963" y2="458.3" stroke="#fff" stroke-width="1"/>
<text transform="translate(91.58,91.80) scale(1.0175,1)" font-size="20.6" font-style="italic" fill="#FF0000">Escherichia_Shigella</text>
<text transform="translate(89.76,113.80) scale(1.0189,1)" font-size="20.6" fill="#000">Respiratory_admissions</text>
<text transform="translate(336.69,115.80) scale(1.0134,1)" font-size="20.6" font-style="italic" fill="#FF0000">Stenotrophomonas</text>
<text transform="translate(447.67,164.90) scale(1.0256,1)" font-size="20.6" font-style="italic" fill="#FF0000">Klebsiella</text>
<text transform="translate(600.80,164.50) scale(1.0140,1)" font-size="20.6" fill="#000">Antibiotics</text>
<text transform="translate(318.37,187.80) scale(1.0343,1)" font-size="20.6" font-style="italic" fill="#FF0000">Serratia</text>
<text transform="translate(333.50,348.50) scale(0.9628,1)" font-size="17.4" fill="#000">VentilationMec</text>
<text transform="translate(160.41,393.70) scale(0.9948,1)" font-size="20.6" font-style="italic" fill="#FF0000">Rothia</text>
<text transform="translate(269.36,423.40) scale(1.0208,1)" font-size="20.6" fill="#000">Delivery</text>
<text transform="translate(131.80,598.70) scale(1.0025,1)" font-size="20.6" font-style="italic" fill="#FF0000">Enterobacter</text>
<text transform="translate(614.69,632.30) scale(1.0084,1)" font-size="20.6" font-style="italic" fill="#FF0000">Staphylococcus</text>
<text transform="translate(197.19,656.70) scale(1.0093,1)" font-size="20.6" font-style="italic" fill="#FF0000">Gemella</text>
<text transform="translate(683.02,720.80) scale(1.0375,1)" font-size="20.6" fill="#000">Lactation</text>
<text transform="translate(182.88,741.70) scale(1.0163,1)" font-size="20.6" font-style="italic" fill="#FF0000">Streptococcus</text>
<text transform="translate(543.58,778.30) scale(1.0164,1)" font-size="20.6" font-style="italic" fill="#FF0000">Bifidobacterium</text>
<text transform="translate(360.60,903.50) scale(1.0519,1)" font-size="24.2" fill="#000">RDA1 [80%]</text>
<text transform="translate(790.60,405.90) scale(0.9945,1)" font-size="25.0" fill="#000">Wheezing</text>
<text transform="translate(833.58,434.70) scale(1.0103,1)" font-size="25.0" fill="#000">No</text>
<text transform="translate(834.24,459.30) scale(1.0590,1)" font-size="25.0" fill="#000">Yes</text>
<text transform="translate(1931.90,306.30) scale(0.9973,1)" font-size="24.6" fill="#000">Spearman</text>
<text transform="translate(-0.93,30.40) scale(0.9261,1)" font-size="42" font-weight="bold" fill="#000">a</text>
<text transform="translate(1095.69,30.40) scale(1.0714,1)" font-size="42" font-weight="bold" fill="#000">b</text>
<text transform="translate(44.78,832.96) scale(1.0600,1)" font-size="24.8" fill="#4D4D4D">−2</text>
<text transform="translate(44.78,696.28) scale(1.0600,1)" font-size="24.8" fill="#4D4D4D">−1</text>
<text transform="translate(59.62,559.60) scale(1.0600,1)" font-size="24.8" fill="#4D4D4D">0</text>
<text transform="translate(55.02,422.92) scale(1.0600,1)" font-size="24.8" fill="#4D4D4D">1</text>
<text transform="translate(59.62,286.24) scale(1.0600,1)" font-size="24.8" fill="#4D4D4D">2</text>
<text transform="translate(59.62,149.56) scale(1.0600,1)" font-size="24.8" fill="#4D4D4D">3</text>
<text transform="translate(226.10,865.00) scale(1.0500,1)" font-size="24.4" fill="#4D4D4D">−2</text>
<text transform="translate(442.05,865.00) scale(1.0500,1)" font-size="24.4" fill="#4D4D4D">0</text>
<text transform="translate(650.17,865.00) scale(1.0500,1)" font-size="24.4" fill="#4D4D4D">2</text>
<text transform="translate(1971.50,339.20) scale(1.0000,1)" font-size="25" fill="#000">0.4</text>
<text transform="translate(1971.50,381.20) scale(1.0000,1)" font-size="25" fill="#000">0.2</text>
<text transform="translate(1971.50,421.60) scale(1.0000,1)" font-size="25" fill="#000">0.0</text>
<text transform="translate(1972.10,464.00) scale(1.0000,1)" font-size="25" fill="#000">−0.2</text>
<polygon points="621.13,474.24 619.28,447.33 613.75,420.07 604.62,392.87 592.03,366.13 576.17,340.27 557.29,315.67 535.67,292.72 511.64,271.75 485.56,253.08 457.83,237.01 428.86,223.76 399.10,213.55 369.00,206.53 339.01,202.80 309.59,202.42 281.19,205.39 254.23,211.68 229.12,221.18 206.25,233.76 185.96,249.21 168.56,267.31 154.32,287.79 143.44,310.32 136.09,334.58 132.39,360.19 132.39,386.76 136.09,413.90 143.44,441.18 154.32,468.21 168.56,494.55 185.96,519.83 206.25,543.65 229.12,565.66 254.23,585.51 281.19,602.91 309.59,617.60 339.01,629.35 369.00,637.99 399.10,643.37 428.86,645.43 457.83,644.13 485.56,639.49 511.64,631.58 535.67,620.52 557.29,606.48 576.17,589.67 592.03,570.35 604.62,548.80 613.75,525.36 619.28,500.38" fill="#A020F0" fill-opacity="0.1" stroke="#A020F0" stroke-width="1.9" stroke-linejoin="round"/>
<polygon points="591.87,502.46 590.91,484.56 588.05,468.56 583.33,454.69 576.83,443.17 568.63,434.17 558.87,427.82 547.70,424.22 535.28,423.43 521.80,425.45 507.46,430.26 492.49,437.79 477.11,447.92 461.55,460.49 446.05,475.32 430.84,492.19 416.16,510.82 402.22,530.95 389.25,552.27 377.43,574.45 366.94,597.17 357.95,620.06 350.58,642.79 344.96,665.02 341.16,686.40 339.25,706.61 339.25,725.35 341.16,742.33 344.96,757.29 350.58,770.01 357.95,780.30 366.94,787.99 377.43,792.97 389.25,795.17 402.22,794.55 416.16,791.13 430.84,784.94 446.05,776.10 461.55,764.73 477.11,751.00 492.49,735.12 507.46,717.34 521.80,697.92 535.28,677.16 547.70,655.37 558.87,632.88 568.63,610.03 576.83,587.17 583.33,564.65 588.05,542.80 590.91,521.97" fill="#00FF00" fill-opacity="0.1" stroke="#00FF00" stroke-width="1.9" stroke-linejoin="round"/>
</svg></body></html>
